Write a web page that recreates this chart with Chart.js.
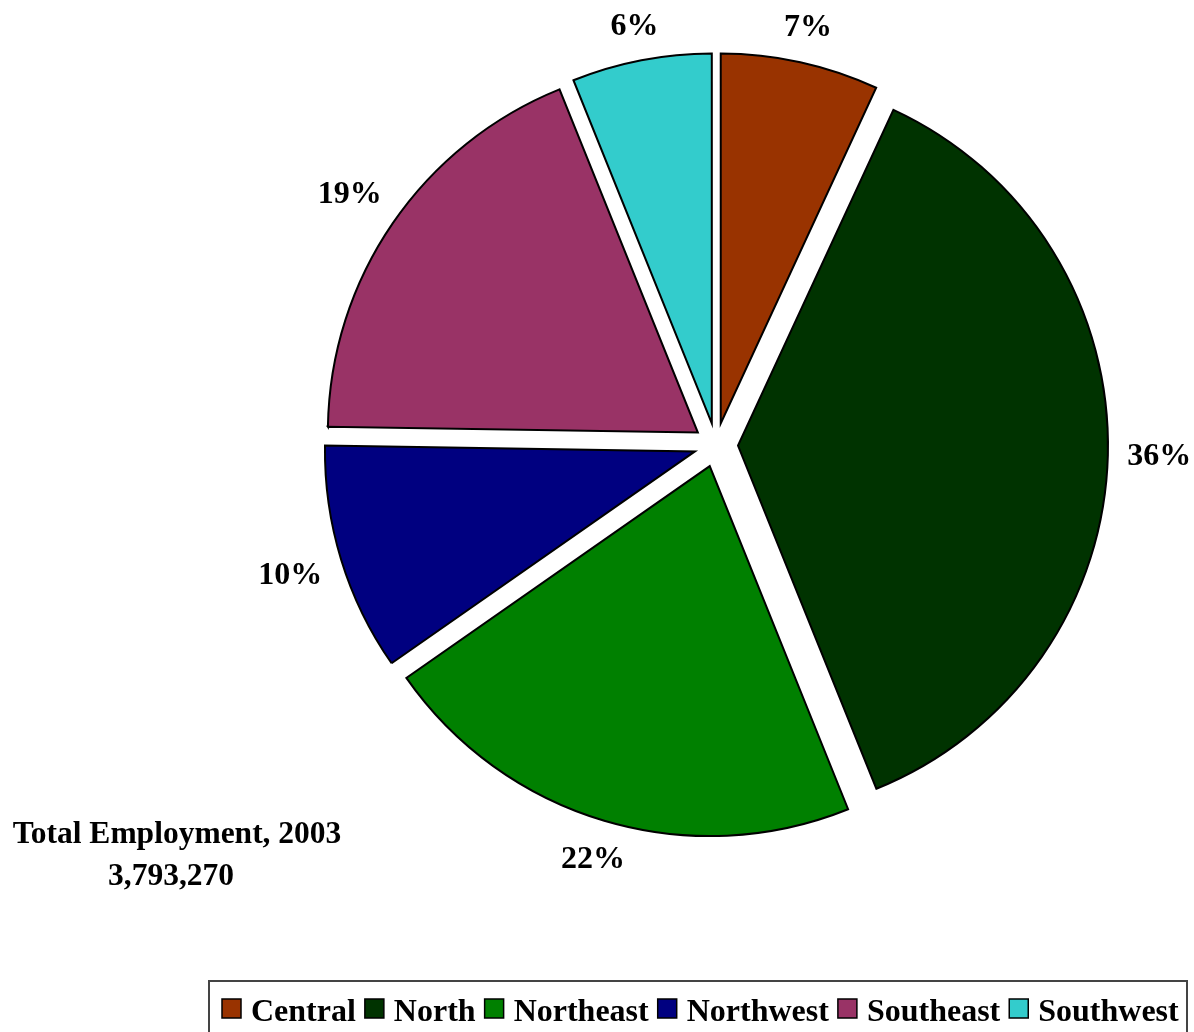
<!DOCTYPE html>
<html>
<head>
<meta charset="utf-8">
<script src="https://cdn.jsdelivr.net/npm/chart.js@4/dist/chart.umd.min.js"></script>
<style>
  html, body { margin: 0; padding: 0; background: #fff; }
  #wrap { position: relative; width: 1194px; height: 1032px; }
  canvas { display: block; }
</style>
</head>
<body>
<div id="wrap"><canvas id="c" width="1194" height="1032"></canvas></div>
<script>
// Regions, clockwise from 12 o'clock
const categories = ['Central', 'North', 'Northeast', 'Northwest', 'Southeast', 'Southwest'];
// Share of total employment (%)
const shares = [6.9, 37.0, 21.4, 9.95, 18.65, 6.1];
// Percentage labels as printed on the chart
const pctLabels = ['7%', '36%', '22%', '10%', '19%', '6%'];
const colors = ['#993300', '#003300', '#008000', '#000080', '#993366', '#33CCCC'];
const titleLines = ['Total Employment, 2003', '3,793,270'];

const SERIF = '"Liberation Serif", "Times New Roman", Times, serif';
const EXPLODE = 22;

// Explode every slice outward along its mid angle
const explode = {
  id: 'explode',
  afterDatasetUpdate(chart, args) {
    const meta = chart.getDatasetMeta(args.index);
    meta.data.forEach(arc => {
      const mid = (arc.startAngle + arc.endAngle) / 2;
      arc.x += Math.cos(mid) * EXPLODE;
      arc.y += Math.sin(mid) * EXPLODE;
    });
  }
};

const overlay = {
  id: 'overlay',
  afterDraw(chart) {
    const ctx = chart.ctx;
    const meta = chart.getDatasetMeta(0);
    ctx.save();
    // slice labels
    ctx.font = 'bold 32px ' + SERIF;
    ctx.fillStyle = '#000';
    ctx.textAlign = 'center';
    ctx.textBaseline = 'middle';
    meta.data.forEach((arc, i) => {
      const p = arc.getProps(['x', 'y', 'startAngle', 'endAngle', 'outerRadius'], true);
      const mid = (p.startAngle + p.endAngle) / 2;
      const txt = pctLabels[i];
      const hw = ctx.measureText(txt).width / 2;
      const hh = 12;
      const c = Math.cos(mid), s = Math.sin(mid);
      const d = p.outerRadius + 19 + hw * Math.abs(c) + hh * Math.abs(s);
      ctx.fillText(txt, p.x + c * d, p.y + s * d + 1);
    });
    // total text
    ctx.font = 'bold 31.5px ' + SERIF;
    ctx.textBaseline = 'alphabetic';
    ctx.fillText(titleLines[0], 177, 843);
    ctx.fillText(titleLines[1], 171, 885);
    // legend
    ctx.lineWidth = 2;
    ctx.strokeStyle = '#444';
    ctx.strokeRect(209, 981, 978, 80);
    ctx.font = 'bold 32px ' + SERIF;
    ctx.textAlign = 'left';
    let x = 222;
    categories.forEach((name, i) => {
      ctx.fillStyle = colors[i];
      ctx.fillRect(x, 999, 19, 19);
      ctx.lineWidth = 1.5;
      ctx.strokeStyle = '#000';
      ctx.strokeRect(x, 999, 19, 19);
      ctx.fillStyle = '#000';
      ctx.fillText(name, x + 29, 1021);
      x += 29 + ctx.measureText(name).width + 9;
    });
    ctx.restore();
  }
};

new Chart(document.getElementById('c'), {
  type: 'pie',
  data: {
    labels: categories,
    datasets: [{
      data: shares,
      backgroundColor: colors,
      borderColor: '#000',
      borderWidth: 2,
      borderJoinStyle: 'miter',
      offset: 0,
      hoverOffset: 0
    }]
  },
  options: {
    responsive: false,
    animation: false,
    radius: 370,
    layout: { padding: { left: 238, right: 0, top: 0, bottom: 142 } },
    plugins: {
      legend: { display: false },
      tooltip: { enabled: false },
      title: { display: false }
    },
    events: []
  },
  plugins: [explode, overlay]
});
</script>
</body>
</html>
